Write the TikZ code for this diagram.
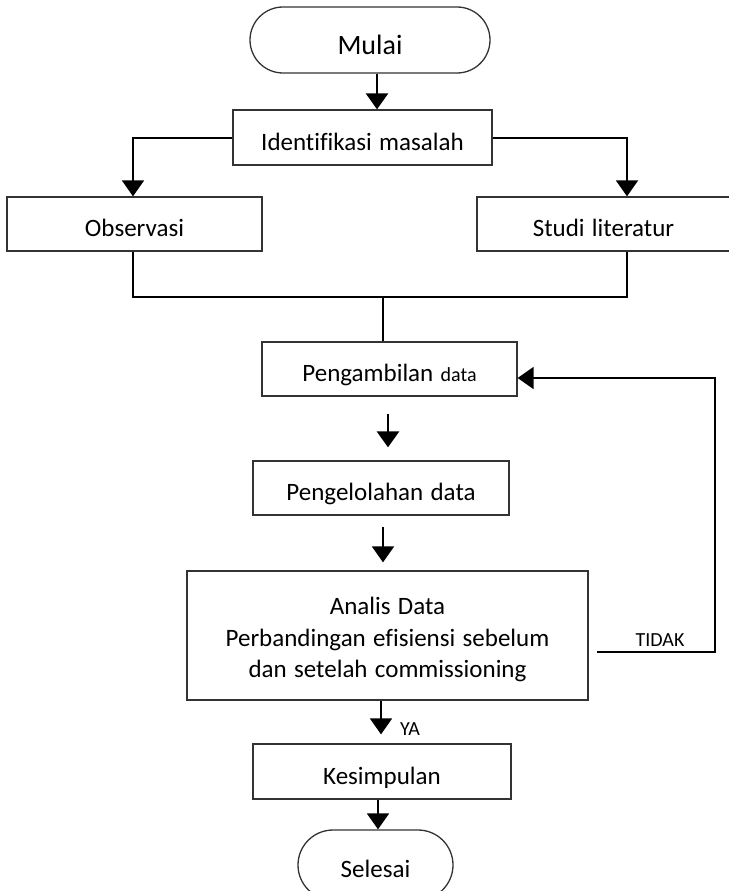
\documentclass[tikz,border=0pt]{standalone}
\usepackage{fontspec}
\setmainfont{Carlito}[Ligatures=CommonOff, WordSpace=1.3]
\usetikzlibrary{arrows.meta,calc}
\begin{document}
\begin{tikzpicture}[x=1pt,y=-1pt,
  box/.style={draw=black!80, line width=1.3pt, rectangle, inner sep=0pt,
    font=\fontsize{25}{31}\selectfont, text height=25pt, text depth=0pt},
  term/.style={box, rounded corners=#1},
  conn/.style={line width=2pt, draw=black},
  arr/.style={conn, -{Triangle[width=22pt,length=16pt]}},
  lbl/.style={font=\fontsize{20}{24}\selectfont, inner sep=0pt}]
\useasboundingbox (0,0) rectangle (728,891);

% nodes
\node[term=33pt, minimum width=240pt, minimum height=66pt,
      font=\fontsize{28}{34}\selectfont, text height=30pt] (mulai) at (370,40) {Mulai};
\node[box, minimum width=259pt, minimum height=55pt] (ident) at (362.5,137.5) {Identifikasi masalah};
\node[box, minimum width=255pt, minimum height=54pt] (obs) at (134.5,224) {Observasi};
\node[box, minimum width=253pt, minimum height=54pt] (studi) at (603.5,224) {Studi literatur};
\node[box, minimum width=255pt, minimum height=54pt] (peng) at (389.5,369) {Pengambilan {\fontsize{20}{24}\selectfont data}};
\node[box, minimum width=256pt, minimum height=54pt] (pengel) at (381,488) {Pengelolahan data};
\node[draw=black!80, line width=1.3pt, rectangle, inner sep=0pt, align=center,
      font=\fontsize{25}{31.5}\selectfont, minimum width=401pt, minimum height=129pt] (analis) at (387.5,635.5)
      {\rule{0pt}{26pt}Analis Data\\Perbandingan efisiensi sebelum\\dan setelah commissioning};
\node[box, minimum width=258pt, minimum height=55pt] (kes) at (382,771.5) {Kesimpulan};
\node[term=35pt, minimum width=155pt, minimum height=70pt] (selesai) at (375.5,865) {Selesai};

% helper coordinates
\coordinate (ax0) at (377,0);
\coordinate (sx) at (627,0);
\coordinate (merge) at (383,297);
\coordinate (ya) at (381,0);
\coordinate (ks) at (378,0);
\coordinate (ts) at (597,652);
\coordinate (fb) at (715,378);

% connectors
\draw[arr, line width=2.6pt] (mulai.south -| ax0) -- (ident.north -| ax0);
\draw[arr] (ident.west) -| (obs.north -| 133,0);
\draw[arr] (ident.east) -| (studi.north -| sx);
\draw[conn] (obs.south -| 133,0) |- (merge) -| (studi.south -| sx);
\draw[conn] (merge) -- (peng.north -| merge);
\draw[arr, line width=2.8pt] ($(peng.south)+(-1.5,17)$) -- ($(pengel.north)+(7,-13)$);
\draw[arr] ($(pengel.south)+(2,11)$) -- ($(analis.north)+(-4.5,-8)$);
\draw[arr] (analis.south -| ya) -- ($(kes.north -| ya)+(0,-9)$);
\draw[arr] (kes.south -| ks) -- (selesai.north -| ks);
\draw[arr] (ts) -| (fb) -- (fb -| peng.east);

% labels
\node[lbl] (ylbl) at (410,729) {YA};
\node[lbl] (tlbl) at (660,640) {TIDAK};
\end{tikzpicture}
\end{document}
